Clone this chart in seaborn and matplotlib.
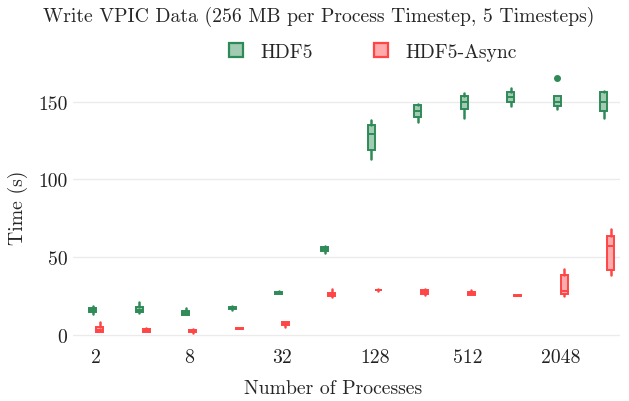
import numpy as np
import pandas as pd
import matplotlib
matplotlib.use("Agg")
import matplotlib.pyplot as plt
import matplotlib.colors as mcolors
from matplotlib.patches import Patch
import seaborn as sns

procs = ["2", "4", "8", "16", "32", "64", "128", "256", "512", "1024", "2048", "4096"]
tick_labels = ["2", "8", "32", "128", "512", "2048"]
libs = ["HDF5", "HDF5-Async"]

# five-number summaries (seconds)
hdf5_min = [13.5, 14.0, 12.5, 16.0, 26.0, 52.8, 113.0, 136.8, 139.4, 147.0, 145.0, 139.4]
hdf5_q1 = [14.5, 14.5, 13.0, 16.5, 26.5, 54.0, 119.0, 140.3, 145.6, 149.6, 147.0, 144.3]
hdf5_med = [16.0, 16.0, 14.0, 17.0, 27.0, 55.0, 129.0, 143.8, 150.0, 152.8, 149.6, 149.6]
hdf5_q3 = [17.0, 18.0, 15.5, 18.0, 27.5, 56.5, 135.0, 148.0, 153.9, 156.0, 153.5, 156.0]
hdf5_max = [18.4, 21.0, 17.0, 18.5, 28.0, 57.0, 138.0, 148.8, 155.6, 158.8, 153.5, 157.0]
hdf5_outliers = {"2048": [165.0]}

async_min = [1.8, 1.8, 1.5, 3.6, 5.3, 24.5, 28.5, 25.8, 25.4, 24.9, 25.3, 38.6]
async_q1 = [2.2, 2.0, 2.0, 3.9, 6.5, 25.0, 28.8, 26.2, 25.6, 25.1, 26.4, 41.8]
async_med = [3.0, 2.5, 2.5, 4.1, 7.0, 26.0, 29.0, 27.5, 26.3, 25.3, 28.5, 57.4]
async_q3 = [5.0, 3.5, 3.0, 4.3, 8.0, 27.0, 29.2, 28.8, 27.5, 25.5, 38.6, 63.9]
async_max = [8.0, 4.5, 3.5, 4.6, 8.2, 29.5, 29.4, 29.3, 29.0, 25.7, 42.4, 68.2]
async_outliers = {}


def samples(mn, q1, md, q3, mx, extra):
    if extra:
        return [mn, q1, q1, md, md, q3, q3, mx] + list(extra)[:1]
    return [mn, q1, md, q3, mx]


rows = []
for lib, mins, q1s, meds, q3s, maxs, outs in [
    ("HDF5", hdf5_min, hdf5_q1, hdf5_med, hdf5_q3, hdf5_max, hdf5_outliers),
    ("HDF5-Async", async_min, async_q1, async_med, async_q3, async_max, async_outliers),
]:
    for i, p in enumerate(procs):
        for v in samples(mins[i], q1s[i], meds[i], q3s[i], maxs[i], outs.get(p, [])):
            rows.append({"procs": p, "time": v, "lib": lib})
df = pd.DataFrame(rows)

sns.set_theme(style="white")
plt.rcParams["font.family"] = ["cmr10", "DejaVu Serif"]
plt.rcParams["axes.formatter.use_mathtext"] = True
plt.rcParams["mathtext.fontset"] = "cm"

edge = {"HDF5": "#2e8b57", "HDF5-Async": "#ff4545"}


def light(c, a=0.45):
    r = np.array(mcolors.to_rgb(c))
    return tuple(1 - a * (1 - r))


face = {k: light(v) for k, v in edge.items()}
FS = 14.2

fig = plt.figure(figsize=(6.29, 4.02), dpi=100)
ax = fig.add_axes([0.116, 0.145, 0.870, 0.677])

for lib in libs:
    sub = df[df["lib"] == lib]
    sns.boxplot(
        data=sub, x="procs", y="time", hue="lib", order=procs, hue_order=libs,
        palette=face, linecolor=edge[lib], width=0.3, gap=0.0, linewidth=1.4,
        dodge=True, saturation=1, showcaps=False, fliersize=4, legend=False, ax=ax,
        flierprops=dict(marker="o", markerfacecolor=edge[lib], markeredgecolor=edge[lib]),
        whiskerprops=dict(solid_capstyle="round", linewidth=1.8),
    )

ax.set_xlim(-0.5, 11.28)
ax.set_ylim(-5, 170)
ax.set_yticks([0, 50, 100, 150])
ax.set_yticklabels(["0", "50", "100", "150"])
ax.set_xticks(range(0, 12, 2))
ax.set_xticklabels(tick_labels)
ax.yaxis.grid(True, color="#ebebeb", linewidth=1.0)
ax.xaxis.grid(False)
ax.set_axisbelow(True)
for s in ax.spines.values():
    s.set_visible(False)
ax.tick_params(axis="both", length=0, labelsize=FS, colors="#222222", pad=4)
ax.set_xlabel("Number of Processes", fontsize=FS)
ax.set_ylabel("Time (s)", fontsize=FS)
ax.xaxis.set_label_coords((333 - 73) / (0.870 * 629), -0.135)
ax.yaxis.set_label_coords(-0.082, 0.5)

fig.text(0.506, 0.957, "Write VPIC Data (256 MB per Process Timestep, 5 Timesteps)",
         ha="center", va="center", fontsize=FS)

handles = [Patch(facecolor=face[l], edgecolor=edge[l], linewidth=1.6, label=l) for l in libs]
fig.legend(handles=handles, loc="center", bbox_to_anchor=(0.593, 0.868), ncol=2,
           frameon=False, fontsize=FS, handlelength=0.7, handleheight=0.7,
           columnspacing=3.1, handletextpad=0.9)

fig.savefig("out.png", dpi=100, facecolor="white")
